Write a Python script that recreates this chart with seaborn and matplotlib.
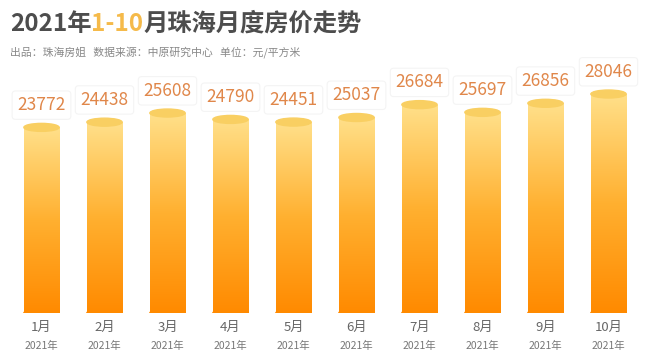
import numpy as np
import pandas as pd
import matplotlib
matplotlib.use('Agg')
import matplotlib.pyplot as plt
import seaborn as sns
from matplotlib.colors import LinearSegmentedColormap
from matplotlib.patches import Ellipse

sns.set_theme(style='white')
plt.rcParams['font.family'] = ['Noto Sans CJK SC', 'DejaVu Sans']

# data
months = ['1月', '2月', '3月', '4月', '5月', '6月', '7月', '8月', '9月', '10月']
year_label = '2021年'
prices = [23772, 24438, 25608, 24790, 24451, 25037, 26684, 25697, 26856, 28046]

df = pd.DataFrame({'month': months, 'price': prices})

fig = plt.figure(figsize=(6.5, 3.62), dpi=100)
ax = fig.add_axes([10 / 650, 49 / 362, 630 / 650, 253 / 362])

sns.barplot(data=df, x='month', y='price', ax=ax, width=0.56,
            color='#FFB53A', saturation=1, edgecolor='none')
ax.set_ylim(0, 32400)
ax.set_xlim(-0.5, len(months) - 0.5)

# gradient cylinders
grad = LinearSegmentedColormap.from_list('g', ['#FF8A00', '#FFB030', '#FFE08A'])
img = np.linspace(0, 1, 256).reshape(-1, 1)
ylim = ax.get_ylim()[1]
ell_h = ylim * 8 / 253
for p, v in zip(ax.patches, prices):
    x0, w = p.get_x(), p.get_width()
    im = ax.imshow(img, cmap=grad, aspect='auto', origin='lower',
                   extent=[x0, x0 + w, 0, v], zorder=2)
    im.set_clip_path(p)
    p.set_facecolor('none')
    ax.add_patch(Ellipse((x0 + w / 2, 0), w, ell_h, color='#FF8A00', zorder=1.9))
    ax.add_patch(Ellipse((x0 + w / 2, v), w, ell_h, color='#F9CF62', zorder=3))
    ax.annotate(f'{v}', (x0 + w / 2, v), xytext=(0, 16), textcoords='offset points',
                ha='center', va='center', fontsize=12.5, color='#E0874A', zorder=5,
                bbox=dict(boxstyle='round,pad=0.3,rounding_size=0.2', fc='white',
                          ec='#F4F4F4', lw=0.8))

ax.set_xlabel('')
ax.set_ylabel('')
ax.set_yticks([])
ax.set_xticks(range(len(months)))
ax.set_xticklabels([])
ax.tick_params(axis='x', length=0)
for i, m in enumerate(months):
    ax.text(i, -8 / 253, m, transform=ax.get_xaxis_transform(), ha='center', va='top',
            fontsize=9.5, color='#666666')
    ax.text(i, -28 / 253, year_label, transform=ax.get_xaxis_transform(), ha='center', va='top',
            fontsize=7.5, color='#777777')
for s in ax.spines.values():
    s.set_visible(False)
ax.set_facecolor('none')

# title in three colour parts
fig.canvas.draw()
r = fig.canvas.get_renderer()
x = 10 / 650
for part, col in [('2021年', '#4D4D4D'), ('1-10', '#F5BA4A'), ('月珠海月度房价走势', '#4D4D4D')]:
    t = fig.text(x, 1 - 24 / 362, part, fontsize=17.5, fontweight='bold', color=col,
                 va='center', ha='left')
    bb = t.get_window_extent(renderer=r)
    x += bb.width / (fig.get_figwidth() * fig.dpi)

fig.text(10 / 650, 1 - 52 / 362, '出品：珠海房姐   数据来源：中原研究中心   单位：元/平方米',
         fontsize=7.8, color='#888888', va='center', ha='left')

fig.savefig('out.png', dpi=100)
